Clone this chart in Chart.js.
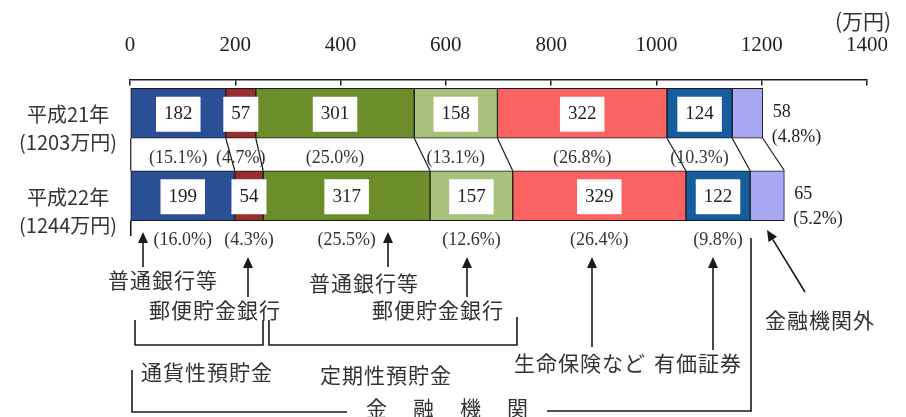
<!DOCTYPE html>
<html>
<head>
<meta charset="utf-8">
<script src="https://cdn.jsdelivr.net/npm/chart.js@4.4.1/dist/chart.umd.min.js"></script>
<style>
  html, body { margin: 0; padding: 0; background: #fff; }
</style>
</head>
<body>
<canvas id="graficoAhorro" width="906" height="417"></canvas>
<script>
// datos
const years = [['平成21年', '(1203万円)'], ['平成22年', '(1244万円)']];
const segNames = ['普通銀行等(通貨性)', '郵便貯金銀行(通貨性)', '普通銀行等(定期性)', '郵便貯金銀行(定期性)', '生命保険など', '有価証券', '金融機関外'];
const h21 = [182, 57, 301, 158, 322, 124, 58];
const h22 = [199, 54, 317, 157, 329, 122, 65];
const pct21 = ['15.1', '4.7', '25.0', '13.1', '26.8', '10.3', '4.8'];
const pct22 = ['16.0', '4.3', '25.5', '12.6', '26.4', '9.8', '5.2'];
const xTicks = [0, 200, 400, 600, 800, 1000, 1200, 1400];
const colors = ['#2b4f94', '#9a2d2d', '#6b8e2a', '#a6c27c', '#fb6262', '#165d9e', '#a8a8f2'];

const pcts = [pct21, pct22];
const NUM_FONT = 'Liberation Serif';
const JP_FONT = 'Noto Sans CJK JP';
const INK = '#1b1b1b';

// cajas blancas con valores, porcentajes y lineas entre barras
const segLabels = {
    id: 'segLabels',
    afterDatasetsDraw(chart) {
        const ctx = chart.ctx;
        const metas = chart.data.datasets.map((d, i) => chart.getDatasetMeta(i));
        const last = metas.length - 1;
        ctx.save();

        // lineas de conexion
        ctx.strokeStyle = INK;
        ctx.lineWidth = 1.2;
        for (let k = 0; k <= metas.length; k++) {
            const a = k === 0 ? metas[0].data[0] : metas[k - 1].data[0];
            const b = k === 0 ? metas[0].data[1] : metas[k - 1].data[1];
            const xa = k === 0 ? a.base : a.x;
            const xb = k === 0 ? b.base : b.x;
            ctx.beginPath();
            ctx.moveTo(xa, a.y + a.height / 2);
            ctx.lineTo(xb, b.y - b.height / 2);
            ctx.stroke();
        }

        metas.forEach((meta, i) => {
            const ds = chart.data.datasets[i];
            meta.data.forEach((bar, r) => {
                const v = ds.data[r];
                const pct = '(' + pcts[r][i] + '%)';
                if (i === last) {
                    ctx.fillStyle = '#222';
                    ctx.font = '18px "' + NUM_FONT + '"';
                    ctx.textAlign = 'left';
                    ctx.textBaseline = 'middle';
                    ctx.fillText(String(v), bar.x + 10, bar.y - 1);
                    ctx.fillText(pct, bar.x + 9, bar.y + 24);
                    return;
                }
                const cx = (bar.x + bar.base) / 2;
                ctx.font = '19px "' + NUM_FONT + '"';
                const tw = ctx.measureText(String(v)).width;
                const bw = tw + 16, bh = 35;
                ctx.fillStyle = '#fff';
                ctx.fillRect(cx - bw / 2, bar.y + 1 - bh / 2, bw, bh);
                ctx.fillStyle = '#222';
                ctx.textAlign = 'center';
                ctx.textBaseline = 'middle';
                ctx.fillText(String(v), cx, bar.y + 1);

                ctx.font = '18px "' + NUM_FONT + '"';
                ctx.fillStyle = '#333';
                ctx.fillText(pct, cx, bar.y + bar.height / 2 + 20);
            });
        });
        ctx.restore();
    }
};

// flechas, corchetes y textos de abajo
const notes = {
    id: 'notes',
    afterDraw(chart) {
        const ctx = chart.ctx;
        const bar2 = chart.getDatasetMeta(0).data[1];
        ctx.save();
        ctx.strokeStyle = INK;
        ctx.fillStyle = INK;
        ctx.lineWidth = 1.6;

        const poly = (pts) => {
            ctx.beginPath();
            ctx.moveTo(pts[0][0], pts[0][1]);
            pts.slice(1).forEach(p => ctx.lineTo(p[0], p[1]));
            ctx.stroke();
        };
        const arrow = (x1, y1, x2, y2) => {
            const ang = Math.atan2(y2 - y1, x2 - x1);
            const len = 11, hw = 5;
            const bx = x2 - len * Math.cos(ang), by = y2 - len * Math.sin(ang);
            poly([[x1, y1], [bx, by]]);
            ctx.beginPath();
            ctx.moveTo(x2, y2);
            ctx.lineTo(bx + hw * Math.sin(ang), by - hw * Math.cos(ang));
            ctx.lineTo(bx - hw * Math.sin(ang), by + hw * Math.cos(ang));
            ctx.closePath();
            ctx.fill();
        };

        poly([[bar2.base, bar2.y + bar2.height / 2], [bar2.base, 236]]);
        arrow(143, 267, 143, 232);
        arrow(248, 297, 248, 257);
        arrow(388, 267, 388, 232);
        arrow(467, 297, 467, 257);
        arrow(592, 347, 592, 257);
        arrow(713, 350, 713, 257);
        arrow(805, 292, 767, 230);

        poly([[135, 320], [135, 345], [263, 345], [263, 320]]);
        poly([[269, 320], [269, 345], [517, 345], [517, 317]]);
        poly([[132, 370], [132, 412], [347, 412]]);
        poly([[547, 411], [751, 411], [751, 238]]);

        ctx.fillStyle = '#333';
        ctx.textAlign = 'center';
        ctx.textBaseline = 'middle';
        ctx.font = '21px "' + JP_FONT + '"';
        ctx.letterSpacing = '1px';
        const txt = [
            ['普通銀行等', 163, 280], ['郵便貯金銀行', 215, 310],
            ['普通銀行等', 364, 283], ['郵便貯金銀行', 438, 310],
            ['通貨性預貯金', 207, 372], ['定期性預貯金', 386, 375],
            ['生命保険など', 580, 363], ['有価証券', 698, 363],
            ['金融機関外', 820, 320]
        ];
        txt.forEach(t => ctx.fillText(t[0], t[1], t[2]));
        ctx.letterSpacing = '26px';
        ctx.fillText('金融機関', 460, 408);
        ctx.letterSpacing = '0px';
        ctx.fillText('(万円)', 863, 21);
        ctx.restore();
    }
};

new Chart(document.getElementById('graficoAhorro').getContext('2d'), {
    type: 'bar',
    data: {
        labels: years,
        datasets: segNames.map((n, i) => ({
            label: n,
            data: [h21[i], h22[i]],
            backgroundColor: colors[i],
            borderColor: INK,
            borderWidth: 1,
            borderSkipped: false,
            barThickness: 50
        }))
    },
    options: {
        indexAxis: 'y',
        responsive: false,
        animation: false,
        layout: { padding: { left: 0, right: 39, top: 72, bottom: 180 } },
        plugins: { legend: { display: false }, tooltip: { enabled: false } },
        scales: {
            x: {
                type: 'linear',
                min: 0,
                max: 1400,
                stacked: true,
                position: { y: -0.406 },
                afterBuildTicks: (s) => { s.ticks = xTicks.map(v => ({ value: v })); },
                ticks: {
                    padding: -52,
                    color: '#222',
                    font: { family: NUM_FONT, size: 21 },
                    callback: (v) => String(v)
                },
                grid: { drawOnChartArea: false, drawTicks: true, tickLength: 5, color: INK, lineWidth: 1.5 },
                border: { display: true, color: INK, width: 1.5 }
            },
            y: {
                type: 'category',
                stacked: true,
                grid: { display: false, drawTicks: false },
                border: { display: false },
                ticks: {
                    color: '#333',
                    crossAlign: 'center',
                    padding: 13,
                    labelOffset: 15.5,
                    font: { family: JP_FONT, size: 20, lineHeight: 1.4 }
                },
                afterFit: (s) => { s.width = 130; }
            }
        }
    },
    plugins: [segLabels, notes]
});
</script>
</body>
</html>
